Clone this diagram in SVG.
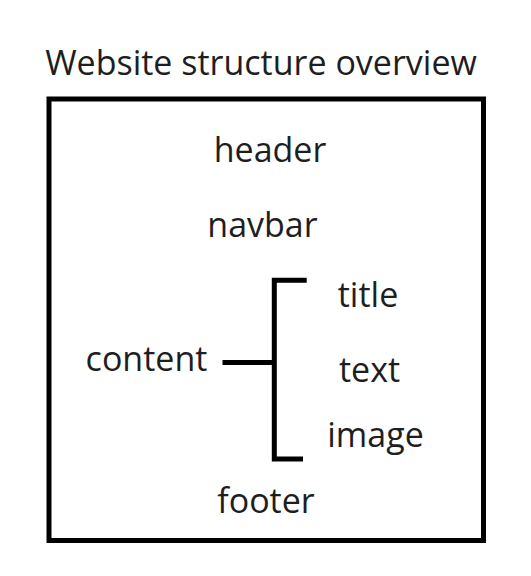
<svg xmlns="http://www.w3.org/2000/svg" width="531" height="576" viewBox="0 0 531 576">
<style>
text{font-family:"Open Sans","Liberation Sans",sans-serif;font-size:34px;fill:#1e1e1e;text-anchor:middle}
.ln{stroke:#000;stroke-width:5;fill:none}
</style>
<rect width="531" height="576" fill="#fff"/>
<g id="title"><text x="261" y="75">Website structure overview</text></g>
<g id="frame"><rect class="ln" x="49" y="99" width="434.5" height="441.5"/></g>
<g id="header"><text x="270" y="162">header</text></g>
<g id="navbar"><text x="262.5" y="237">navbar</text></g>
<g id="content"><text x="146.5" y="371">content</text></g>
<g id="item-title"><text x="368" y="307">title</text></g>
<g id="item-text"><text x="369.5" y="382">text</text></g>
<g id="item-image"><text x="375.5" y="447">image</text></g>
<g id="footer"><text x="266" y="513">footer</text></g>
<g id="connectors">
<path class="ln" d="M222.5 362.5H274.3"/>
<path class="ln" d="M306.7 280.3H274.3V459H303"/>
</g>
</svg>
